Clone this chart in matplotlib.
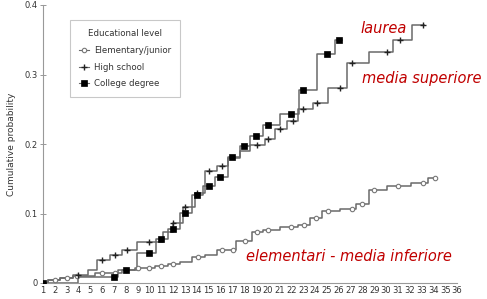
import numpy as np
import matplotlib
matplotlib.use("Agg")
import matplotlib.pyplot as plt
from matplotlib.ticker import FuncFormatter

# step curves: time where each step starts, cumulative probability after the step
elem_t = [1.0, 1.42, 2.44, 3.54, 5.4, 7.68, 8.78, 10.47, 11.57, 12.58, 13.6, 14.7,
          15.7, 17.3, 18.67, 19.6, 21.03, 22.55, 23.57, 24.58, 26.1, 27.5, 28.56,
          30.08, 32.1, 33.54]
elem_p = [0.0, 0.004, 0.007, 0.010, 0.014, 0.019, 0.021, 0.024, 0.027, 0.030, 0.037,
          0.040, 0.047, 0.060, 0.073, 0.076, 0.080, 0.083, 0.094, 0.104, 0.107, 0.114,
          0.134, 0.139, 0.144, 0.151]
elem_end = 34.2
elem_marks = [1, 2, 3, 3.9, 6, 7.1, 8, 9, 10, 11, 12, 14.1, 16.1, 17.1, 18.1, 19.1,
              20, 22, 23.1, 24.1, 25.1, 27.1, 28, 29, 31, 33.1, 34.1]

high_t = [1.0, 1.42, 2.44, 3.54, 4.8, 5.56, 6.66, 7.68, 8.95, 11.14, 11.99, 12.83,
          13.85, 14.69, 15.71, 16.64, 17.65, 18.5, 19.77, 20.6, 21.6, 22.55, 23.8,
          25.1, 26.7, 28.6, 30.6, 32.2]
high_p = [0.0, 0.004, 0.007, 0.011, 0.019, 0.033, 0.041, 0.047, 0.059, 0.073, 0.087,
          0.109, 0.129, 0.161, 0.169, 0.180, 0.190, 0.199, 0.207, 0.221, 0.233, 0.250,
          0.259, 0.280, 0.316, 0.333, 0.350, 0.371]
high_end = 33.2
high_marks = [4, 6, 7.1, 8.1, 10, 12, 13, 14, 15, 16.1, 19.1, 20, 21, 22.1, 23,
              24.2, 26.1, 27.1, 30.1, 31.2, 33.1]

coll_t = [1.0, 3.96, 7.34, 8.95, 10.55, 11.57, 12.58, 13.6, 14.52, 15.54, 16.64,
          17.65, 18.5, 19.6, 21.03, 22.64, 24.16, 25.68]
coll_p = [0.0, 0.0086, 0.019, 0.043, 0.064, 0.077, 0.101, 0.126, 0.140, 0.153, 0.181,
          0.197, 0.211, 0.227, 0.243, 0.277, 0.330, 0.350]
coll_end = 26.3
coll_marks = [1, 7, 8, 10, 11, 12, 13, 14, 15, 16, 17, 18, 19, 20, 22, 23, 25, 26]

labels = ["Elementary/junior", "High school", "College degree"]
notes = ["laurea", "media superiore", "elementari - media inferiore"]


def step_value(ts, ps, x):
    i = np.searchsorted(ts, x, side="right") - 1
    return np.array(ps)[i]


fig = plt.figure(figsize=(4.87, 2.99), dpi=100)
ax = fig.add_axes([43 / 487, 16 / 299, 414 / 487, 278 / 299])

line_col = "#6a6a6a"
curves = [
    (elem_t, elem_p, elem_end, elem_marks,
     dict(marker="o", ms=3.2, mfc="white", mec="#777777", mew=0.8)),
    (high_t, high_p, high_end, high_marks,
     dict(marker="+", ms=5, mec="#222222", mew=1.0)),
    (coll_t, coll_p, coll_end, coll_marks,
     dict(marker="s", ms=4.5, mfc="black", mec="black", mew=0.5)),
]
handles = []
for (ts, ps, end, marks, mk), lab in zip(curves, labels):
    xs = list(ts) + [end]
    ys = list(ps) + [ps[-1]]
    ax.step(xs, ys, where="post", color=line_col, lw=1.1, zorder=2)
    my = step_value(ts, ps, np.array(marks))
    ax.plot(marks, my, ls="none", zorder=3, **mk)
    h, = ax.plot([], [], color=line_col, lw=0.8, **mk)
    handles.append(h)

ax.set_xlim(1, 36)
ax.set_ylim(0, 0.4)
ax.set_xticks(range(1, 37))
ax.set_yticks([0, 0.1, 0.2, 0.3, 0.4])
ax.yaxis.set_major_formatter(FuncFormatter(lambda v, p: "0" if v == 0 else f"{v:.1f}"))
ax.tick_params(axis="x", length=0, pad=2, labelsize=6, labelcolor="#333333")
ax.tick_params(axis="y", direction="inout", length=4, width=0.6, color="#888888",
               pad=2, labelsize=6, labelcolor="#333333")
for s in ["top", "right"]:
    ax.spines[s].set_visible(False)
for s in ["left", "bottom"]:
    ax.spines[s].set_color("#999999")
    ax.spines[s].set_linewidth(0.8)
ax.set_ylabel("Cumulative probability", fontsize=6.5, color="#333333", labelpad=6)

leg = ax.legend(handles, labels, title="Educational level", loc="upper left",
                bbox_to_anchor=(0.055, 0.96), fontsize=6.2, title_fontsize=6.2,
                frameon=True, fancybox=False, handlelength=1.2, handletextpad=0.6,
                labelspacing=0.9, borderpad=1.0)
leg.get_frame().set_edgecolor("#bbbbbb")
leg.get_frame().set_linewidth(0.8)
leg.get_title().set_color("#333333")
for t in leg.get_texts():
    t.set_color("#333333")

red = "#c00000"
ax.text(27.8, 0.366, notes[0], color=red, fontsize=10.5, style="italic",
        va="center", ha="left", clip_on=False)
ax.text(28.0, 0.294, notes[1], color=red, fontsize=10.5, style="italic",
        va="center", ha="left", clip_on=False)
ax.text(18.2, 0.0386, notes[2], color=red, fontsize=10.5, style="italic",
        va="center", ha="left", clip_on=False)

fig.savefig("out.png", dpi=100)
